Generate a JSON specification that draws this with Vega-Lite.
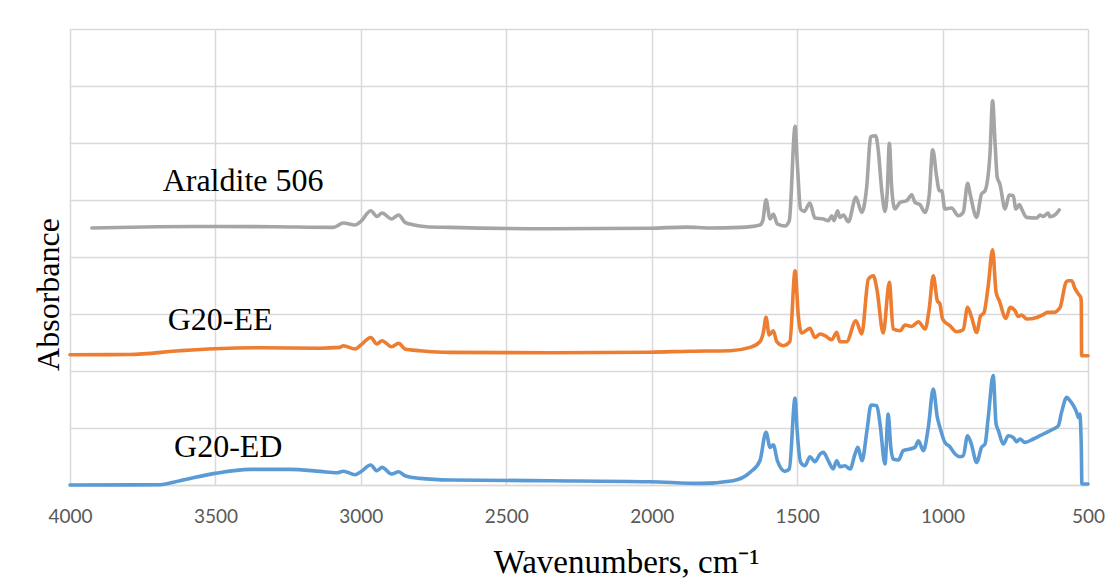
{
  "$schema": "https://vega.github.io/schema/vega-lite/v6.json",
  "autosize": "none",
  "width": 1018,
  "height": 456,
  "padding": {"left": 70, "top": 29, "right": 25, "bottom": 95},
  "background": "white",
  "config": {"view": {"stroke": null}},
  "datasets": {
    "spectra": [
      {"s":"Araldite 506","w":3925,"a":4.51},{"s":"Araldite 506","w":3700,"a":4.53},{"s":"Araldite 506","w":3502,"a":4.535},{"s":"Araldite 506","w":3300,"a":4.53},{"s":"Araldite 506","w":3095,"a":4.52},{"s":"Araldite 506","w":3060,"a":4.596},{"s":"Araldite 506","w":3020,"a":4.561},{"s":"Araldite 506","w":3000,"a":4.625},{"s":"Araldite 506","w":2966,"a":4.812},{"s":"Araldite 506","w":2945,"a":4.712},{"s":"Araldite 506","w":2927,"a":4.772},{"s":"Araldite 506","w":2894,"a":4.667},{"s":"Araldite 506","w":2870,"a":4.737},{"s":"Araldite 506","w":2848,"a":4.607},{"s":"Araldite 506","w":2821,"a":4.567},{"s":"Araldite 506","w":2774,"a":4.532},{"s":"Araldite 506","w":2693,"a":4.519},{"s":"Araldite 506","w":2350,"a":4.496},{"s":"Araldite 506","w":2006,"a":4.505},{"s":"Araldite 506","w":1880,"a":4.525},{"s":"Araldite 506","w":1800,"a":4.51},{"s":"Araldite 506","w":1696,"a":4.519},{"s":"Araldite 506","w":1628,"a":4.561},{"s":"Araldite 506","w":1618,"a":4.637},{"s":"Araldite 506","w":1607,"a":5.005},{"s":"Araldite 506","w":1593,"a":4.667},{"s":"Araldite 506","w":1582,"a":4.754},{"s":"Araldite 506","w":1568,"a":4.579},{"s":"Araldite 506","w":1542,"a":4.544},{"s":"Araldite 506","w":1527,"a":4.637},{"s":"Araldite 506","w":1507,"a":6.291},{"s":"Araldite 506","w":1500,"a":5.689},{"s":"Araldite 506","w":1488,"a":4.842},{"s":"Araldite 506","w":1476,"a":4.8},{"s":"Araldite 506","w":1456,"a":4.947},{"s":"Araldite 506","w":1439,"a":4.684},{"s":"Araldite 506","w":1410,"a":4.667},{"s":"Araldite 506","w":1393,"a":4.637},{"s":"Araldite 506","w":1381,"a":4.725},{"s":"Araldite 506","w":1373,"a":4.637},{"s":"Araldite 506","w":1361,"a":4.812},{"s":"Araldite 506","w":1353,"a":4.695},{"s":"Araldite 506","w":1341,"a":4.737},{"s":"Araldite 506","w":1324,"a":4.619},{"s":"Araldite 506","w":1298,"a":5.046},{"s":"Araldite 506","w":1278,"a":4.782},{"s":"Araldite 506","w":1261,"a":5.221},{"s":"Araldite 506","w":1247,"a":6.111},{"s":"Araldite 506","w":1230,"a":6.128},{"s":"Araldite 506","w":1221,"a":5.865},{"s":"Araldite 506","w":1209,"a":5.163},{"s":"Araldite 506","w":1198,"a":4.8},{"s":"Araldite 506","w":1190,"a":5.163},{"s":"Araldite 506","w":1183,"a":5.993},{"s":"Araldite 506","w":1175,"a":5.221},{"s":"Araldite 506","w":1164,"a":4.842},{"s":"Araldite 506","w":1146,"a":4.958},{"s":"Araldite 506","w":1123,"a":4.988},{"s":"Araldite 506","w":1106,"a":5.093},{"s":"Araldite 506","w":1095,"a":4.958},{"s":"Araldite 506","w":1078,"a":4.918},{"s":"Araldite 506","w":1060,"a":4.782},{"s":"Araldite 506","w":1046,"a":5.075},{"s":"Araldite 506","w":1034,"a":5.882},{"s":"Araldite 506","w":1020,"a":5.396},{"s":"Araldite 506","w":1011,"a":5.163},{"s":"Araldite 506","w":1003,"a":5.163},{"s":"Araldite 506","w":992,"a":4.842},{"s":"Araldite 506","w":969,"a":4.86},{"s":"Araldite 506","w":946,"a":4.725},{"s":"Araldite 506","w":929,"a":4.782},{"s":"Araldite 506","w":914,"a":5.291},{"s":"Araldite 506","w":904,"a":5.075},{"s":"Araldite 506","w":883,"a":4.695},{"s":"Araldite 506","w":866,"a":5.105},{"s":"Araldite 506","w":854,"a":5.163},{"s":"Araldite 506","w":837,"a":5.807},{"s":"Araldite 506","w":828,"a":6.742},{"s":"Araldite 506","w":820,"a":6.04},{"s":"Araldite 506","w":812,"a":5.396},{"s":"Araldite 506","w":803,"a":5.281},{"s":"Araldite 506","w":785,"a":4.842},{"s":"Araldite 506","w":771,"a":5.088},{"s":"Araldite 506","w":757,"a":5.075},{"s":"Araldite 506","w":748,"a":4.842},{"s":"Araldite 506","w":736,"a":4.918},{"s":"Araldite 506","w":728,"a":4.842},{"s":"Araldite 506","w":711,"a":4.695},{"s":"Araldite 506","w":676,"a":4.684},{"s":"Araldite 506","w":665,"a":4.737},{"s":"Araldite 506","w":654,"a":4.712},{"s":"Araldite 506","w":637,"a":4.772},{"s":"Araldite 506","w":631,"a":4.707},{"s":"Araldite 506","w":614,"a":4.737},{"s":"Araldite 506","w":599,"a":4.825},

      {"s":"G20-EE","w":4000,"a":2.286},{"s":"G20-EE","w":3796,"a":2.29},{"s":"G20-EE","w":3622,"a":2.356},{"s":"G20-EE","w":3502,"a":2.391},{"s":"G20-EE","w":3347,"a":2.409},{"s":"G20-EE","w":3140,"a":2.4},{"s":"G20-EE","w":3072,"a":2.414},{"s":"G20-EE","w":3060,"a":2.444},{"s":"G20-EE","w":3020,"a":2.386},{"s":"G20-EE","w":3000,"a":2.456},{"s":"G20-EE","w":2966,"a":2.589},{"s":"G20-EE","w":2945,"a":2.474},{"s":"G20-EE","w":2927,"a":2.532},{"s":"G20-EE","w":2894,"a":2.426},{"s":"G20-EE","w":2870,"a":2.484},{"s":"G20-EE","w":2848,"a":2.386},{"s":"G20-EE","w":2797,"a":2.356},{"s":"G20-EE","w":2693,"a":2.326},{"s":"G20-EE","w":2350,"a":2.321},{"s":"G20-EE","w":2006,"a":2.33},{"s":"G20-EE","w":1868,"a":2.347},{"s":"G20-EE","w":1731,"a":2.356},{"s":"G20-EE","w":1662,"a":2.414},{"s":"G20-EE","w":1628,"a":2.514},{"s":"G20-EE","w":1616,"a":2.677},{"s":"G20-EE","w":1607,"a":2.94},{"s":"G20-EE","w":1596,"a":2.632},{"s":"G20-EE","w":1582,"a":2.707},{"s":"G20-EE","w":1570,"a":2.514},{"s":"G20-EE","w":1548,"a":2.444},{"s":"G20-EE","w":1525,"a":2.514},{"s":"G20-EE","w":1507,"a":3.76},{"s":"G20-EE","w":1496,"a":2.97},{"s":"G20-EE","w":1484,"a":2.667},{"s":"G20-EE","w":1456,"a":2.747},{"s":"G20-EE","w":1439,"a":2.589},{"s":"G20-EE","w":1421,"a":2.649},{"s":"G20-EE","w":1404,"a":2.619},{"s":"G20-EE","w":1381,"a":2.549},{"s":"G20-EE","w":1364,"a":2.677},{"s":"G20-EE","w":1353,"a":2.514},{"s":"G20-EE","w":1330,"a":2.514},{"s":"G20-EE","w":1298,"a":2.882},{"s":"G20-EE","w":1278,"a":2.649},{"s":"G20-EE","w":1255,"a":3.614},{"s":"G20-EE","w":1238,"a":3.672},{"s":"G20-EE","w":1226,"a":3.439},{"s":"G20-EE","w":1204,"a":2.667},{"s":"G20-EE","w":1183,"a":3.554},{"s":"G20-EE","w":1170,"a":2.737},{"s":"G20-EE","w":1146,"a":2.707},{"s":"G20-EE","w":1129,"a":2.807},{"s":"G20-EE","w":1106,"a":2.782},{"s":"G20-EE","w":1083,"a":2.865},{"s":"G20-EE","w":1060,"a":2.737},{"s":"G20-EE","w":1046,"a":3.088},{"s":"G20-EE","w":1032,"a":3.672},{"s":"G20-EE","w":1018,"a":3.233},{"s":"G20-EE","w":1009,"a":3.175},{"s":"G20-EE","w":1000,"a":2.912},{"s":"G20-EE","w":975,"a":2.795},{"s":"G20-EE","w":952,"a":2.689},{"s":"G20-EE","w":929,"a":2.725},{"s":"G20-EE","w":914,"a":3.116},{"s":"G20-EE","w":900,"a":2.94},{"s":"G20-EE","w":883,"a":2.677},{"s":"G20-EE","w":869,"a":2.97},{"s":"G20-EE","w":858,"a":3.018},{"s":"G20-EE","w":843,"a":3.496},{"s":"G20-EE","w":828,"a":4.128},{"s":"G20-EE","w":816,"a":3.379},{"s":"G20-EE","w":805,"a":3.233},{"s":"G20-EE","w":782,"a":2.923},{"s":"G20-EE","w":768,"a":3.116},{"s":"G20-EE","w":751,"a":3.058},{"s":"G20-EE","w":740,"a":2.958},{"s":"G20-EE","w":728,"a":2.982},{"s":"G20-EE","w":711,"a":2.912},{"s":"G20-EE","w":676,"a":2.94},{"s":"G20-EE","w":654,"a":2.988},{"s":"G20-EE","w":640,"a":3.028},{"s":"G20-EE","w":619,"a":3.028},{"s":"G20-EE","w":596,"a":3.116},{"s":"G20-EE","w":576,"a":3.554},{"s":"G20-EE","w":568,"a":3.584},{"s":"G20-EE","w":556,"a":3.584},{"s":"G20-EE","w":545,"a":3.449},{"s":"G20-EE","w":533,"a":3.351},{"s":"G20-EE","w":525,"a":3.291},{"s":"G20-EE","w":523,"a":3.204},{"s":"G20-EE","w":522,"a":2.268},{"s":"G20-EE","w":500,"a":2.268},

      {"s":"G20-ED","w":4000,"a":0},{"s":"G20-ED","w":3691,"a":0.005},{"s":"G20-ED","w":3622,"a":0.075},{"s":"G20-ED","w":3502,"a":0.204},{"s":"G20-ED","w":3381,"a":0.274},{"s":"G20-ED","w":3244,"a":0.274},{"s":"G20-ED","w":3140,"a":0.239},{"s":"G20-ED","w":3082,"a":0.216},{"s":"G20-ED","w":3060,"a":0.242},{"s":"G20-ED","w":3020,"a":0.181},{"s":"G20-ED","w":3000,"a":0.233},{"s":"G20-ED","w":2966,"a":0.351},{"s":"G20-ED","w":2945,"a":0.251},{"s":"G20-ED","w":2927,"a":0.309},{"s":"G20-ED","w":2894,"a":0.193},{"s":"G20-ED","w":2870,"a":0.233},{"s":"G20-ED","w":2848,"a":0.163},{"s":"G20-ED","w":2797,"a":0.116},{"s":"G20-ED","w":2693,"a":0.088},{"s":"G20-ED","w":2350,"a":0.075},{"s":"G20-ED","w":2006,"a":0.058},{"s":"G20-ED","w":1834,"a":0.028},{"s":"G20-ED","w":1720,"a":0.075},{"s":"G20-ED","w":1662,"a":0.221},{"s":"G20-ED","w":1628,"a":0.426},{"s":"G20-ED","w":1607,"a":0.923},{"s":"G20-ED","w":1593,"a":0.66},{"s":"G20-ED","w":1582,"a":0.707},{"s":"G20-ED","w":1568,"a":0.426},{"s":"G20-ED","w":1542,"a":0.239},{"s":"G20-ED","w":1527,"a":0.281},{"s":"G20-ED","w":1507,"a":1.526},{"s":"G20-ED","w":1500,"a":0.953},{"s":"G20-ED","w":1488,"a":0.396},{"s":"G20-ED","w":1473,"a":0.339},{"s":"G20-ED","w":1456,"a":0.496},{"s":"G20-ED","w":1439,"a":0.409},{"s":"G20-ED","w":1421,"a":0.544},{"s":"G20-ED","w":1410,"a":0.572},{"s":"G20-ED","w":1393,"a":0.426},{"s":"G20-ED","w":1376,"a":0.281},{"s":"G20-ED","w":1364,"a":0.426},{"s":"G20-ED","w":1353,"a":0.321},{"s":"G20-ED","w":1336,"a":0.339},{"s":"G20-ED","w":1318,"a":0.281},{"s":"G20-ED","w":1301,"a":0.544},{"s":"G20-ED","w":1291,"a":0.66},{"s":"G20-ED","w":1277,"a":0.426},{"s":"G20-ED","w":1260,"a":0.953},{"s":"G20-ED","w":1246,"a":1.404},{"s":"G20-ED","w":1226,"a":1.391},{"s":"G20-ED","w":1215,"a":1.07},{"s":"G20-ED","w":1198,"a":0.368},{"s":"G20-ED","w":1187,"a":1.246},{"s":"G20-ED","w":1178,"a":0.66},{"s":"G20-ED","w":1170,"a":0.456},{"s":"G20-ED","w":1152,"a":0.439},{"s":"G20-ED","w":1135,"a":0.602},{"s":"G20-ED","w":1112,"a":0.632},{"s":"G20-ED","w":1095,"a":0.66},{"s":"G20-ED","w":1083,"a":0.777},{"s":"G20-ED","w":1066,"a":0.602},{"s":"G20-ED","w":1049,"a":1.011},{"s":"G20-ED","w":1032,"a":1.684},{"s":"G20-ED","w":1018,"a":1.186},{"s":"G20-ED","w":1009,"a":1.011},{"s":"G20-ED","w":992,"a":0.747},{"s":"G20-ED","w":975,"a":0.672},{"s":"G20-ED","w":957,"a":0.544},{"s":"G20-ED","w":940,"a":0.496},{"s":"G20-ED","w":929,"a":0.514},{"s":"G20-ED","w":914,"a":0.865},{"s":"G20-ED","w":901,"a":0.719},{"s":"G20-ED","w":883,"a":0.396},{"s":"G20-ED","w":866,"a":0.66},{"s":"G20-ED","w":854,"a":0.719},{"s":"G20-ED","w":843,"a":1.186},{"s":"G20-ED","w":826,"a":1.918},{"s":"G20-ED","w":816,"a":1.07},{"s":"G20-ED","w":808,"a":0.953},{"s":"G20-ED","w":791,"a":0.719},{"s":"G20-ED","w":774,"a":0.865},{"s":"G20-ED","w":757,"a":0.835},{"s":"G20-ED","w":745,"a":0.76},{"s":"G20-ED","w":734,"a":0.807},{"s":"G20-ED","w":717,"a":0.747},{"s":"G20-ED","w":688,"a":0.807},{"s":"G20-ED","w":665,"a":0.865},{"s":"G20-ED","w":642,"a":0.923},{"s":"G20-ED","w":619,"a":0.982},{"s":"G20-ED","w":602,"a":1.04},{"s":"G20-ED","w":591,"a":1.274},{"s":"G20-ED","w":573,"a":1.537},{"s":"G20-ED","w":562,"a":1.479},{"s":"G20-ED","w":550,"a":1.391},{"s":"G20-ED","w":539,"a":1.274},{"s":"G20-ED","w":533,"a":1.186},{"s":"G20-ED","w":528,"a":1.246},{"s":"G20-ED","w":525,"a":1.011},{"s":"G20-ED","w":523,"a":0.66},{"s":"G20-ED","w":521,"a":0.018},{"s":"G20-ED","w":500,"a":0.018}
    ],
    "labels": [
      {"t":"Araldite 506","w":3405,"a":5.151},
      {"t":"G20-EE","w":3484,"a":2.725},
      {"t":"G20-ED","w":3456,"a":0.496}
    ]
  },
  "layer": [
    {
      "data": {"name": "spectra"},
      "mark": {"type": "line", "strokeWidth": 3.6, "interpolate": "monotone", "strokeJoin": "round", "strokeCap": "round"},
      "encoding": {
        "x": {
          "field": "w", "type": "quantitative",
          "scale": {"domain": [500, 4000], "reverse": true, "nice": false, "zero": false},
          "axis": {
            "values": [500, 1000, 1500, 2000, 2500, 3000, 3500, 4000],
            "format": "d",
            "title": "Wavenumbers, cm⁻¹",
            "titleFont": "Liberation Serif", "titleFontSize": 33, "titleFontWeight": "normal", "titleColor": "#000000",
            "titleX": 556, "titleY": 87, "titleBaseline": "alphabetic", "titleAlign": "center",
            "labelFont": "Lato", "labelFontSize": 19, "labelColor": "#595959", "labelPadding": 22,
            "labelOverlap": false, "labelFlush": false, "labelBound": false,
            "ticks": false, "domainColor": "#D9D9D9", "domainWidth": 1.5,
            "grid": true, "gridColor": "#D9D9D9", "gridWidth": 1.5
          }
        },
        "y": {
          "field": "a", "type": "quantitative",
          "scale": {"domain": [0, 8], "nice": false, "zero": false},
          "axis": {
            "values": [0, 1, 2, 3, 4, 5, 6, 7, 8],
            "labels": false, "ticks": false, "domain": false,
            "grid": true, "gridColor": "#D9D9D9", "gridWidth": 1.5,
            "title": "Absorbance",
            "titleFont": "Liberation Serif", "titleFontSize": 32, "titleFontWeight": "normal", "titleColor": "#000000",
            "titleX": -12, "titleY": 265, "titleBaseline": "alphabetic", "titleAlign": "center", "titleAngle": -90
          }
        },
        "color": {
          "field": "s", "type": "nominal",
          "scale": {"domain": ["Araldite 506", "G20-EE", "G20-ED"], "range": ["#A5A5A5", "#ED7D31", "#5B9BD5"]},
          "legend": null
        }
      }
    },
    {
      "data": {"name": "labels"},
      "mark": {"type": "text", "font": "Liberation Serif", "fontSize": 32, "align": "center", "baseline": "alphabetic", "color": "#000000"},
      "encoding": {
        "x": {"field": "w", "type": "quantitative"},
        "y": {"field": "a", "type": "quantitative"},
        "text": {"field": "t"}
      }
    }
  ]
}
